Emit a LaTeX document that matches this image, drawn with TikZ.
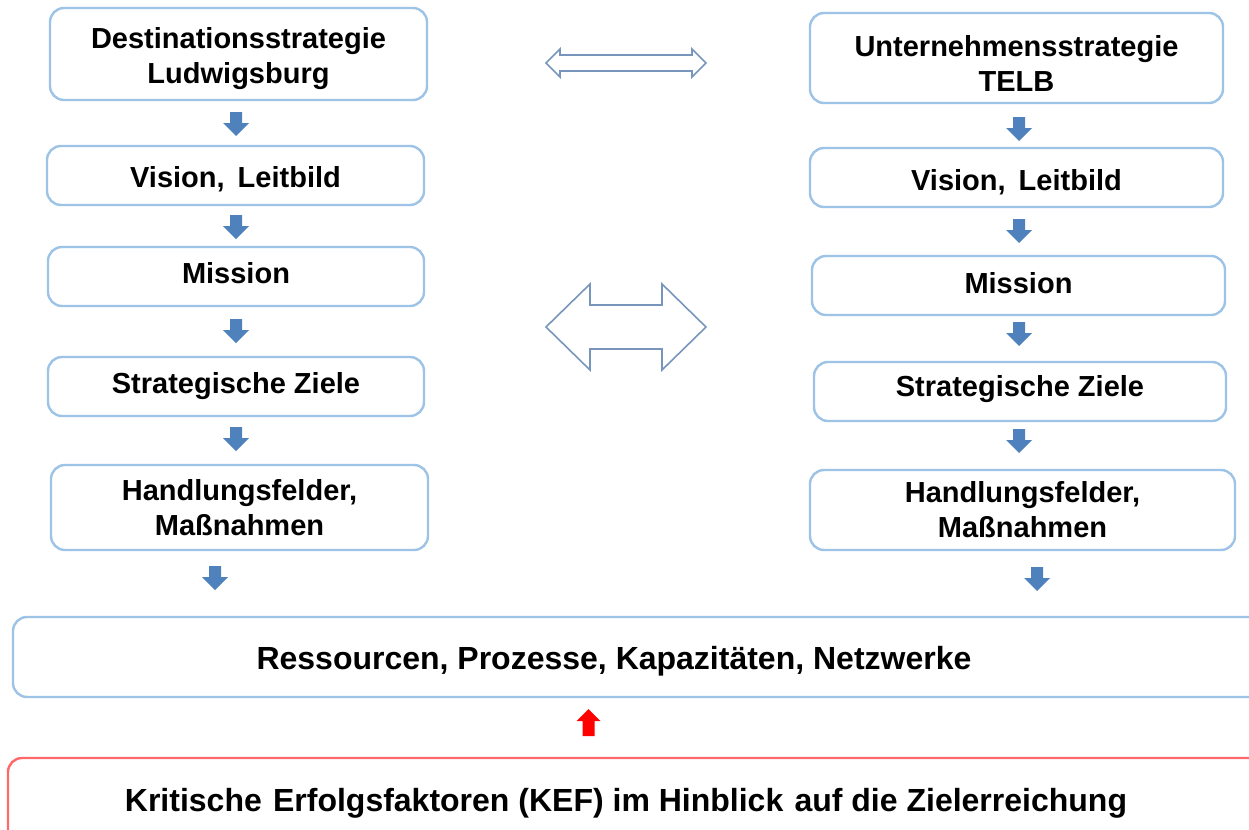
\documentclass[tikz,border=0pt]{standalone}
\usepackage{fontspec}
\setmainfont{Liberation Sans}
\definecolor{boxblue}{RGB}{157,195,230}
\definecolor{arrblue}{RGB}{79,129,189}
\definecolor{dblblue}{RGB}{120,150,188}
\definecolor{redline}{RGB}{255,105,105}
\definecolor{redarr}{RGB}{255,0,0}
\begin{document}
\begin{tikzpicture}[x=0.5pt,y=-0.5pt,
  box/.style={draw=boxblue, line width=1.2pt, rounded corners=7pt, fill=white, inner sep=0pt},
  lbl/.style={align=center, font=\fontsize{14.5}{17.5}\selectfont\bfseries, inner sep=0pt},
  biglbl/.style={align=center, font=\fontsize{16}{19}\selectfont\bfseries, inner sep=0pt},
  downarr/.pic={\fill[arrblue] (-6,-12) -- (-6,-1) -- (-13,-1) -- (0,12) -- (13,-1) -- (6,-1) -- (6,-12) -- cycle;},
  uparr/.pic={\fill[redarr] (-6,13.5) -- (-6,-1.5) -- (-12,-1.5) -- (0,-13.5) -- (12,-1.5) -- (6,-1.5) -- (6,13.5) -- cycle;},
  dblarr/.style={draw=dblblue, line width=0.8pt, fill=white, line join=miter}
]
\useasboundingbox (0,0) rectangle (1249,830);

% left column
\node[box, minimum width=188.5pt, minimum height=46pt, label={[lbl,yshift=-2.5pt]center:{Destinationsstrategie\\Ludwigsburg}}] (L1) at (238.5,54) {};
\node[box, minimum width=188.5pt, minimum height=29.5pt, label={[lbl,yshift=-2pt]center:{Vision,\hspace{0.45em}Leitbild}}] (L2) at (235.5,175.5) {};
\node[box, minimum width=188pt, minimum height=29.5pt, label={[lbl,yshift=1.5pt]center:{Mission}}] (L3) at (236,276.5) {};
\node[box, minimum width=188pt, minimum height=29.5pt, label={[lbl]center:{Strategische Ziele}}] (L4) at (236,386.5) {};
\node[box, minimum width=188.5pt, minimum height=42.5pt, label={[lbl]center:{Handlungsfelder,\\Maßnahmen}}] (L5) at (239.5,507.5) {};

% right column
\node[box, minimum width=206.5pt, minimum height=45pt, label={[lbl,yshift=-2.5pt]center:{Unternehmensstrategie\\TELB}}] (R1) at (1016.5,58) {};
\node[box, minimum width=206.5pt, minimum height=29.5pt, label={[lbl,yshift=-2.5pt]center:{Vision,\hspace{0.45em}Leitbild}}] (R2) at (1016.5,177.5) {};
\node[box, minimum width=206.5pt, minimum height=29.5pt, label={[lbl,yshift=1pt]center:{Mission}}] (R3) at (1018.5,285.5) {};
\node[box, minimum width=206pt, minimum height=29.5pt, label={[lbl,yshift=1pt]center:{Strategische Ziele}}] (R4) at (1020,391.5) {};
\node[box, minimum width=212.5pt, minimum height=40pt, label={[lbl]center:{Handlungsfelder,\\Maßnahmen}}] (R5) at (1022.5,510) {};

% bottom boxes
\node[box, minimum width=628.5pt, minimum height=40pt] (Res) at (641.5,657) {};
\node[biglbl] (ResT) at (614,661) {Ressourcen, Prozesse, Kapazitäten, Netzwerke};
\node[box, draw=redline, minimum width=631pt, minimum height=51pt] (Kef) at (639,809) {};
\node[biglbl] (KefT) at (626,803) {Kritische\hspace{0.35em}Erfolgsfaktoren (KEF) im Hinblick\hspace{0.35em}auf die Zielerreichung};

% small down arrows
\pic (aL1) at (236,124) {downarr};
\pic (aL2) at (236,227) {downarr};
\pic (aL3) at (236,331) {downarr};
\pic (aL4) at (236,439) {downarr};
\pic (aL5) at (215,578) {downarr};
\pic (aR1) at (1019,129) {downarr};
\pic (aR2) at (1019,231) {downarr};
\pic (aR3) at (1019,334) {downarr};
\pic (aR4) at (1019,441) {downarr};
\pic (aR5) at (1037,579) {downarr};

% red up arrow
\pic (aKef) at (588.5,722.5) {uparr};

% double arrows
\draw[dblarr] (546,63) -- (560,49) -- (560,55) -- (692,55) -- (692,49) -- (706,63) -- (692,77) -- (692,71) -- (560,71) -- (560,77) -- cycle;
\draw[dblarr] (546,327) -- (590,284) -- (590,305) -- (662,305) -- (662,284) -- (706,327) -- (662,370) -- (662,349) -- (590,349) -- (590,370) -- cycle;
\end{tikzpicture}
\end{document}
